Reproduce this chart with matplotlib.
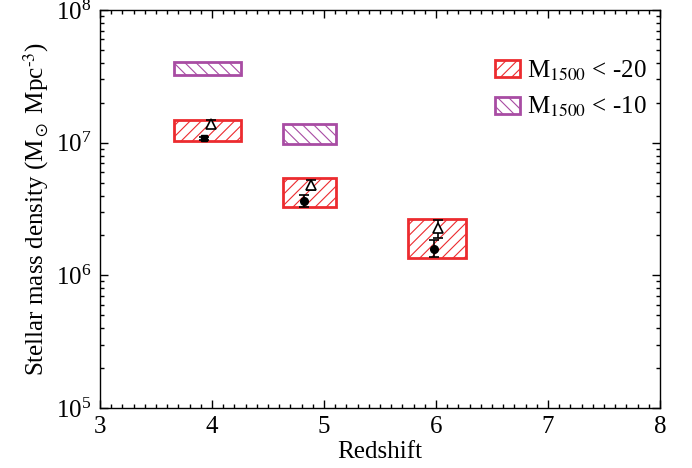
import matplotlib
matplotlib.use('Agg')
import matplotlib.pyplot as plt
from matplotlib.patches import Rectangle
from matplotlib.ticker import MultipleLocator, LogLocator, NullFormatter

plt.rcParams['font.family'] = ['Liberation Serif', 'DejaVu Serif']
plt.rcParams['mathtext.fontset'] = 'stix'
plt.rcParams['font.size'] = 18
plt.rcParams['hatch.linewidth'] = 0.8

# shaded ranges: (z_lo, z_hi, rho_lo, rho_hi)
bright_z = [(3.66, 4.26), (4.63, 5.11), (5.75, 6.27)]
bright_rho = [(1.03e7, 1.48e7), (3.27e6, 5.42e6), (1.35e6, 2.66e6)]
faint_z = [(3.66, 4.26), (4.63, 5.11)]
faint_rho = [(3.24e7, 4.07e7), (9.78e6, 1.38e7)]

# open triangles
tri_z = [3.99, 4.88, 6.02]
tri_rho = [1.38e7, 4.80e6, 2.28e6]
tri_lo = [1.29e7, 4.41e6, 1.91e6]
tri_hi = [1.48e7, 5.24e6, 2.61e6]

# filled points
pt_z = [3.93, 4.82, 5.98]
pt_rho = [1.08e7, 3.64e6, 1.58e6]
pt_lo = [1.05e7, 3.30e6, 1.38e6]
pt_hi = [1.11e7, 4.04e6, 1.85e6]

red = '#ec2b2f'
purple = '#a84ca3'
red_hatch = '///'
purple_hatch = '\\\\\\'

fig = plt.figure(figsize=(6.92, 4.68), dpi=100)
ax = fig.add_axes([0.1445, 0.128, 0.8092, 0.8506])
ax.set_yscale('log')
ax.set_xlim(3, 8)
ax.set_ylim(1e5, 1e8)

for (x0, x1), (y0, y1) in zip(faint_z, faint_rho):
    ax.add_patch(Rectangle((x0, y0), x1 - x0, y1 - y0, fill=False,
                           edgecolor=purple, hatch=purple_hatch, lw=2))
for (x0, x1), (y0, y1) in zip(bright_z, bright_rho):
    ax.add_patch(Rectangle((x0, y0), x1 - x0, y1 - y0, fill=False,
                           edgecolor=red, hatch=red_hatch, lw=2))

tri_err = [[r - l for r, l in zip(tri_rho, tri_lo)], [h - r for r, h in zip(tri_rho, tri_hi)]]
pt_err = [[r - l for r, l in zip(pt_rho, pt_lo)], [h - r for r, h in zip(pt_rho, pt_hi)]]
ax.errorbar(tri_z, tri_rho, yerr=tri_err, fmt='^', mfc='white', mec='black',
            ms=7, mew=1.2, ecolor='black', elinewidth=1.2, capsize=3.5, capthick=1.2)
ax.errorbar(pt_z[1:], pt_rho[1:], yerr=[e[1:] for e in pt_err], fmt='o', color='black',
            ms=5.5, elinewidth=1.2, capsize=3.5, capthick=1.2)
ax.errorbar(pt_z[:1], pt_rho[:1], yerr=[e[:1] for e in pt_err], fmt='s', color='black',
            ms=5, elinewidth=1.2, capsize=3.5, capthick=1.2)

ax.set_xlabel('Redshift', labelpad=2)
ax.set_ylabel(r'Stellar mass density (M$_\odot$ Mpc$^{\text{-3}}$)', labelpad=4)

ax.xaxis.set_major_locator(MultipleLocator(1))
ax.xaxis.set_minor_locator(MultipleLocator(0.1))
ax.yaxis.set_major_locator(LogLocator(base=10, numticks=10))
ax.yaxis.set_minor_locator(LogLocator(base=10, subs=range(2, 10), numticks=10))
ax.yaxis.set_minor_formatter(NullFormatter())
ax.tick_params(which='both', direction='in', top=True, right=True, width=1)
ax.tick_params(which='major', length=6, pad=6)
ax.tick_params(which='minor', length=3)
for s in ax.spines.values():
    s.set_linewidth(1)

handles = [Rectangle((0, 0), 1, 1, fill=False, edgecolor=red, hatch=red_hatch, lw=2),
           Rectangle((0, 0), 1, 1, fill=False, edgecolor=purple, hatch=purple_hatch, lw=2)]
ax.legend(handles, [r'M$_{1500}$ < -20', r'M$_{1500}$ < -10'], loc='upper left',
          bbox_to_anchor=(0.665, 0.935), frameon=False, handlelength=1.0,
          handleheight=0.65, handletextpad=0.3, labelspacing=0.5)

fig.savefig('out.png', dpi=100)
